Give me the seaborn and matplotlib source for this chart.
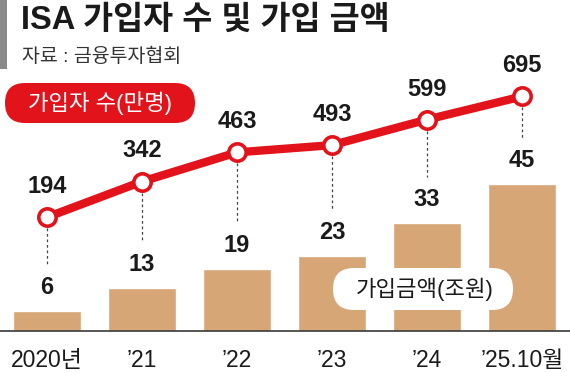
import matplotlib
matplotlib.use("Agg")
import matplotlib.pyplot as plt
import seaborn as sns
import pandas as pd
from matplotlib.patches import FancyBboxPatch, Rectangle

# ---- data ----
categories = ["2020년", "’21", "’22", "’23", "’24", "’25.10월"]
members = [194, 342, 463, 493, 599, 695]      # 가입자 수 (만명)
amounts = [6, 13, 19, 23, 33, 45]             # 가입금액 (조원)

title = "ISA 가입자 수 및 가입 금액"
source = "자료 : 금융투자협회"
legend_line = "가입자 수(만명)"
legend_bar = "가입금액(조원)"

RED = "#e3131b"
TAN = "#d6a676"

sns.set_theme(style="white")
plt.rcParams["font.family"] = ["Liberation Sans", "Noto Sans CJK KR", "DejaVu Sans"]
FAM = ["Liberation Sans", "Noto Sans CJK KR", "DejaVu Sans"]

W, H = 570, 373
fig = plt.figure(figsize=(W / 100, H / 100), dpi=100)
fig.patch.set_facecolor("white")

# main axes: bottom at pixel row 331, spans full width
ax = fig.add_axes([0, 42 / H, 1, 331 / H])
df = pd.DataFrame({"cat": categories, "amount": amounts, "members": members})
sns.barplot(data=df, x="cat", y="amount", color=TAN, width=0.72, saturation=1,
            ax=ax, zorder=2)
ax.set_xlim(-0.495, 5.505)
ax.set_ylim(0, 331 / 3.27)
for s in ["top", "right", "left"]:
    ax.spines[s].set_visible(False)
ax.spines["bottom"].set_color("#3a3a3a")
ax.spines["bottom"].set_linewidth(1.2)
ax.set_yticks([])
ax.set_xlabel("")
ax.set_ylabel("")
ax.tick_params(axis="x", length=0, pad=13, labelsize=16.5, labelcolor="#1a1a1a")
for t in ax.get_xticklabels():
    t.set_family(FAM)
ax.set_facecolor("none")

# line axes (separate scale)
ax2 = ax.twinx()
ax2.set_ylim(-278, 1095)
ax2.set_xlim(ax.get_xlim())
ax2.axis("off")
x = list(range(len(categories)))
sns.lineplot(x=x, y=members, ax=ax2, color=RED, linewidth=6, zorder=5,
             marker="o", markersize=12.5, markerfacecolor="white",
             markeredgecolor=RED, markeredgewidth=2.6)

# value labels
for i, v in enumerate(members):
    ax2.annotate(f"{v}", (i, v), xytext=(0, 22), textcoords="offset points",
                 ha="center", va="center", fontsize=17, fontweight="bold",
                 color="#1a1a1a", family=FAM)
for i, v in enumerate(amounts):
    ax.annotate(f"{v}", (i, v), xytext=(0, 17), textcoords="offset points",
                ha="center", va="center", fontsize=17, fontweight="bold",
                color="#1a1a1a", family=FAM)

# dashed connectors (from marker down to above bar label), via library transforms
for i, (m, a) in enumerate(zip(members, amounts)):
    disp_m = ax2.transData.transform((i, m))
    disp_a = ax.transData.transform((i, a))
    y_top = disp_m[1] - 11
    y_bot = disp_a[1] + 46
    inv = ax.transData.inverted()
    p1 = inv.transform((disp_m[0], y_top))
    p2 = inv.transform((disp_m[0], y_bot))
    ax.plot([p1[0], p2[0]], [p1[1], p2[1]], color="#444444", lw=0.9,
            ls=(0, (2.2, 2.2)), zorder=1, clip_on=False)

# overlay for title / legend pills in pixel coordinates
ov = fig.add_axes([0, 0, 1, 1], zorder=10)
ov.set_xlim(0, W)
ov.set_ylim(H, 0)
ov.axis("off")
ov.patch.set_alpha(0)

ov.add_patch(Rectangle((0, 0), 7, 69, color="#8a8a8a", lw=0))
ov.text(21, 20, title, fontsize=23.5, fontweight="bold", color="#1a1a1a",
        ha="left", va="center", family=FAM)
ov.text(22, 57, source, fontsize=14, color="#333333", ha="left",
        va="center", family=FAM)

ov.add_patch(FancyBboxPatch((5, 83), 190, 40,
                            boxstyle="round,pad=0,rounding_size=20",
                            fc=RED, ec="none"))
ov.text(100, 103, legend_line, fontsize=16, color="white", ha="center",
        va="center", family=FAM, fontweight="medium")

ov.add_patch(FancyBboxPatch((333, 268), 180, 42,
                            boxstyle="round,pad=0,rounding_size=21",
                            fc="white", ec="none"))
ov.text(425, 289, legend_bar, fontsize=16, color="#1a1a1a", ha="center",
        va="center", family=FAM)

fig.savefig("out.png", dpi=100, facecolor="white")
